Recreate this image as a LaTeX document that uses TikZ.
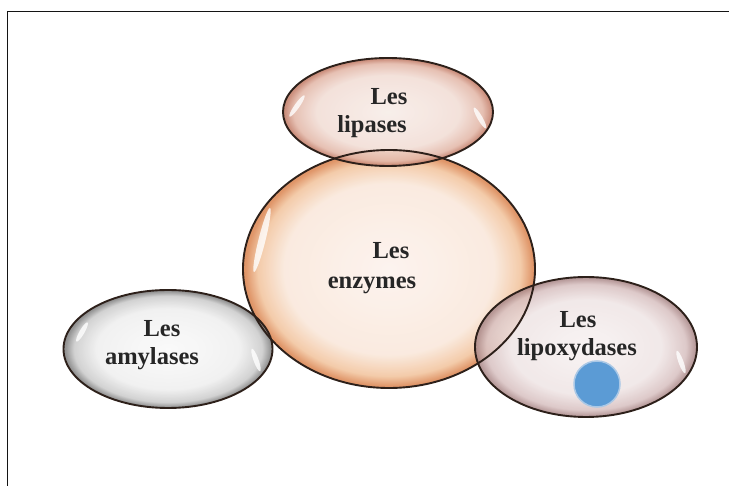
\documentclass[tikz,border=0pt]{standalone}
\usepackage{fontspec}
\setmainfont{Liberation Serif}
\usepackage{xcolor}
\usepackage{tikz}
\usetikzlibrary{shapes.geometric}
\definecolor{rimdark}{RGB}{45, 32, 26}
\definecolor{dotblue}{RGB}{91, 155, 213}
\definecolor{dotrim}{RGB}{170, 200, 230}
\definecolor{framegray}{RGB}{20, 20, 20}
% radial shadings: pale centre, coloured rim (path edge sits at 25bp)
\pgfdeclareradialshading{enzshade}{\pgfpoint{0bp}{0bp}}{rgb(0bp)=(0.99,0.95,0.93); rgb(18bp)=(0.98,0.91,0.86); rgb(22.5bp)=(0.95,0.77,0.62); rgb(24.6bp)=(0.86,0.53,0.33); rgb(50bp)=(0.86,0.53,0.33)}
\pgfdeclareradialshading{lipshade}{\pgfpoint{0bp}{0bp}}{rgb(0bp)=(0.97,0.93,0.91); rgb(17bp)=(0.95,0.87,0.84); rgb(22.5bp)=(0.89,0.72,0.66); rgb(24.6bp)=(0.77,0.50,0.42); rgb(50bp)=(0.77,0.50,0.42)}
\pgfdeclareradialshading{amyshade}{\pgfpoint{0bp}{0bp}}{rgb(0bp)=(0.98,0.98,0.98); rgb(17bp)=(0.94,0.94,0.94); rgb(22.5bp)=(0.80,0.80,0.80); rgb(24.6bp)=(0.52,0.52,0.52); rgb(50bp)=(0.52,0.52,0.52)}
\pgfdeclareradialshading{loxshade}{\pgfpoint{0bp}{0bp}}{rgb(0bp)=(0.97,0.95,0.95); rgb(17bp)=(0.94,0.90,0.90); rgb(22.5bp)=(0.85,0.76,0.76); rgb(24.6bp)=(0.68,0.55,0.55); rgb(50bp)=(0.68,0.55,0.55)}

\begin{document}
\begin{tikzpicture}[x=1pt, y=-1pt,
  ball/.style={ellipse, inner sep=0pt, outer sep=0pt, fill opacity=0.88},
  rim/.style={ellipse, inner sep=0pt, outer sep=0pt, draw=rimdark, line width=1.9pt},
  enzsize/.style={minimum width=292pt, minimum height=238pt},
  lipsize/.style={minimum width=210pt, minimum height=108pt},
  amysize/.style={minimum width=209pt, minimum height=118pt},
  loxsize/.style={minimum width=222pt, minimum height=140pt},
  shine/.style={ellipse, inner sep=0pt, fill=white, fill opacity=0.8},
  lbl/.style={anchor=base, inner sep=0pt, text=black!85, font=\fontsize{24.5}{30}\selectfont\bfseries}]
  \useasboundingbox (0,0) rectangle (729,486);
  \fill[white] (0,0) rectangle (729,486);
  % frame (runs off the picture at right and bottom)
  \draw[framegray, line width=1.4pt] (7.5,486) -- (7.5,11.5) -- (729,11.5);
  % the four balls
  \node[ball, enzsize, shading=enzshade] (enz) at (389,269) {};
  \node[ball, lipsize, shading=lipshade] (lip) at (388,112) {};
  \node[ball, amysize, shading=amyshade] (amy) at (168,349) {};
  \node[ball, loxsize, shading=loxshade] (lox) at (586,347) {};
  % highlights
  \node[shine, minimum width=7pt, minimum height=66pt, rotate=-14] (enzhl) at (262,240) {};
  \node[shine, minimum width=5pt, minimum height=26pt, rotate=-35] (liphl) at (297,106) {};
  \node[shine, minimum width=5pt, minimum height=24pt, rotate=30] (liphr) at (480,118) {};
  \node[shine, minimum width=5pt, minimum height=22pt, rotate=-30] (amyhl) at (82,332) {};
  \node[shine, minimum width=5pt, minimum height=24pt, rotate=20] (amyhr) at (256,360) {};
  \node[shine, minimum width=5pt, minimum height=24pt, rotate=20] (loxhr) at (681,362) {};
  % outlines on top
  \node[rim, enzsize] (enzrim) at (enz) {};
  \node[rim, lipsize] (liprim) at (lip) {};
  \node[rim, amysize] (amyrim) at (amy) {};
  \node[rim, loxsize] (loxrim) at (lox) {};
  % blue dot
  \node[circle, inner sep=0pt, minimum size=46pt, fill=dotblue, draw=dotrim, line width=1.5pt] (dot) at (597,384) {};
  % labels
  \node[lbl] (lipLes) at (389,105) {Les};
  \node[lbl] (lipName) at (372,133) {lipases};
  \node[lbl] (enzLes) at (391,259) {Les};
  \node[lbl] (enzName) at (372,289) {enzymes};
  \node[lbl] (amyLes) at (162,337) {Les};
  \node[lbl] (amyName) at (152,365) {amylases};
  \node[lbl] (loxLes) at (578,328) {Les};
  \node[lbl] (loxName) at (577,356) {lipoxydases};
\end{tikzpicture}
\end{document}
